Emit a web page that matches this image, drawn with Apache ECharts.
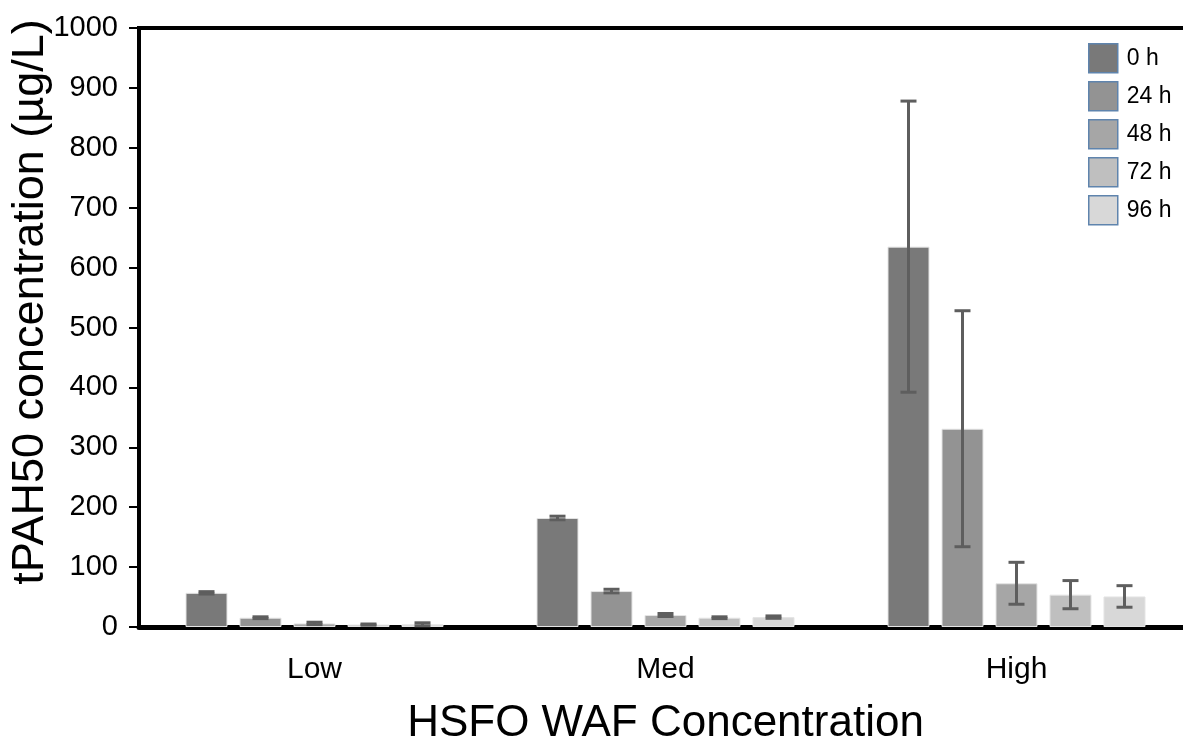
<!DOCTYPE html>
<html>
<head>
<meta charset="utf-8">
<script src="https://cdn.jsdelivr.net/npm/echarts@6.0.0/dist/echarts.min.js"></script>
<style>
  html, body { margin: 0; padding: 0; background: #fff; }
  #chart { width: 1183px; height: 741px; }
</style>
</head>
<body>
<div id="chart"></div>
<script>
// Groups on the x axis and sampling times
const categories = ['Low', 'Med', 'High'];
const timepoints = ['0 h', '24 h', '48 h', '72 h', '96 h'];

// Mean tPAH50 (µg/L) per time point, one value per group (Low, Med, High)
const mean0h  = [57, 182, 635];
const mean24h = [15.5, 60, 331];
const mean48h = [6, 20, 73];
const mean72h = [4, 15.5, 54];
const mean96h = [4.5, 16.5, 51];

// Error bar half-lengths, same layout
const err0h  = [2, 3, 243];
const err24h = [1.5, 3, 197];
const err48h = [2, 2.5, 35];
const err72h = [1, 1.5, 23.5];
const err96h = [2.5, 2, 18];

const yTicks = { min: 0, max: 1000, interval: 100 };

const means = [mean0h, mean24h, mean48h, mean72h, mean96h];
const errs = [err0h, err24h, err48h, err72h, err96h];
const colors = ['#797979', '#939393', '#a6a6a6', '#bfbfbf', '#d8d8d8'];

const FONT = '"Liberation Sans", Arial, sans-serif';
const BAR_W = 42;
const BAR_GAP = 12;

const barSeries = timepoints.map((name, i) => ({
  name: name,
  type: 'bar',
  data: means[i],
  barWidth: BAR_W,
  barGap: (BAR_GAP / BAR_W * 100).toFixed(2) + '%',
  itemStyle: { color: colors[i], borderColor: '#e4e4e4', borderWidth: 1 },
  emphasis: { disabled: true },
  z: 2
}));

// One record per bar: [category index, series index, mean, error]
const errData = [];
means.forEach((arr, s) => arr.forEach((v, c) => errData.push([c, s, v, errs[s][c]])));

const errorSeries = {
  type: 'custom',
  data: errData,
  encode: { x: 0, y: 2 },
  z: 5,
  silent: true,
  renderItem: function (params, api) {
    const c = api.value(0), s = api.value(1), m = api.value(2), e = api.value(3);
    const center = api.coord([c, m]);
    const x = center[0] + (s - (timepoints.length - 1) / 2) * (BAR_W + BAR_GAP);
    const yTop = api.coord([c, m + e])[1];
    const yBot = api.coord([c, m - e])[1];
    const half = 8;
    const style = { stroke: '#5e5e5e', lineWidth: 3 };
    return {
      type: 'group',
      children: [
        { type: 'line', shape: { x1: x, y1: yTop, x2: x, y2: yBot }, style: style },
        { type: 'line', shape: { x1: x - half, y1: yTop, x2: x + half, y2: yTop }, style: style },
        { type: 'line', shape: { x1: x - half, y1: yBot, x2: x + half, y2: yBot }, style: style }
      ]
    };
  }
};

const chart = echarts.init(document.getElementById('chart'), null, { renderer: 'canvas' });
chart.setOption({
  animation: false,
  backgroundColor: '#ffffff',
  textStyle: { fontFamily: FONT },
  grid: {
    left: 139, right: -9, top: 28, bottom: 114,
    outerBoundsMode: 'none',
    containLabel: false,
    show: true, borderColor: '#000', borderWidth: 4, backgroundColor: 'transparent'
  },
  legend: {
    orient: 'vertical',
    left: 1088, top: 43,
    padding: 0,
    itemWidth: 29, itemHeight: 29, itemGap: 7.5,
    icon: 'rect',
    itemStyle: { borderColor: '#5f84ad', borderWidth: 1.5 },
    textStyle: { fontFamily: FONT, fontSize: 23, color: '#000', padding: [0, 0, 0, 4] },
    data: timepoints
  },
  xAxis: {
    type: 'category',
    data: categories,
    name: 'HSFO WAF Concentration',
    nameLocation: 'middle',
    nameGap: 75,
    nameTextStyle: { fontFamily: FONT, fontSize: 44, color: '#000' },
    axisLine: { lineStyle: { color: '#000', width: 5 } },
    axisTick: { show: false },
    axisLabel: { fontFamily: FONT, fontSize: 30, color: '#000', margin: 28 }
  },
  yAxis: {
    type: 'value',
    min: yTicks.min, max: yTicks.max, interval: yTicks.interval,
    splitLine: { show: false },
    axisLine: { show: true, lineStyle: { color: '#000', width: 4 } },
    axisTick: { show: true, length: 10, lineStyle: { color: '#000', width: 2 } },
    axisLabel: {
      fontFamily: FONT, fontSize: 29, color: '#000', margin: 21,
      formatter: (v) => String(v)
    }
  },
  graphic: [{
    type: 'text',
    x: 31, y: 302,
    rotation: Math.PI / 2,
    style: {
      text: 'tPAH50 concentration (µg/L)',
      fontFamily: FONT, fontSize: 45, fill: '#000',
      align: 'center', verticalAlign: 'middle'
    }
  }],
  series: barSeries.concat([errorSeries])
});
</script>
</body>
</html>
